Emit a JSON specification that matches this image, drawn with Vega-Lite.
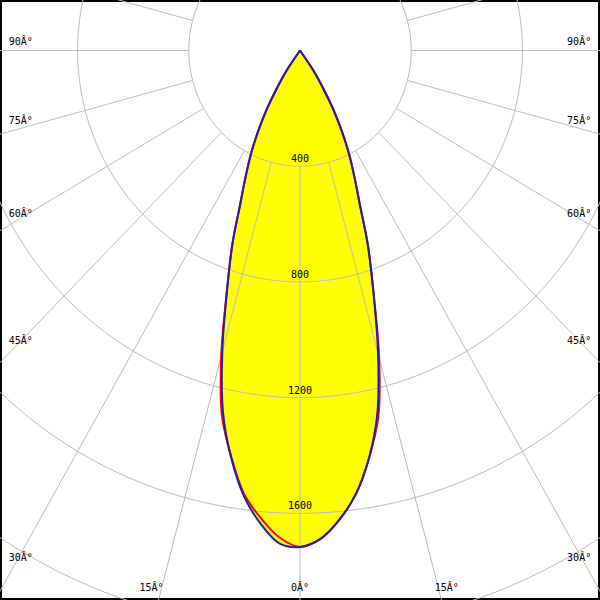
{
  "$schema": "https://vega.github.io/schema/vega-lite/v6.json",
  "width": 600,
  "height": 600,
  "padding": 0,
  "autosize": {"type": "none"},
  "background": "white",
  "config": {"view": {"stroke": "black", "strokeWidth": 4}},
  "datasets": {
    "curves": [
      {"plane": "C0-C180", "angle": -37, "cd": 0},
      {"plane": "C0-C180", "angle": -35, "cd": 80},
      {"plane": "C0-C180", "angle": -33.5, "cd": 125},
      {"plane": "C0-C180", "angle": -32, "cd": 175},
      {"plane": "C0-C180", "angle": -30.5, "cd": 235},
      {"plane": "C0-C180", "angle": -28.5, "cd": 312},
      {"plane": "C0-C180", "angle": -26.5, "cd": 390},
      {"plane": "C0-C180", "angle": -25, "cd": 445},
      {"plane": "C0-C180", "angle": -23.5, "cd": 505},
      {"plane": "C0-C180", "angle": -22, "cd": 575},
      {"plane": "C0-C180", "angle": -20, "cd": 710},
      {"plane": "C0-C180", "angle": -17.5, "cd": 875},
      {"plane": "C0-C180", "angle": -15, "cd": 1095},
      {"plane": "C0-C180", "angle": -12.5, "cd": 1295},
      {"plane": "C0-C180", "angle": -10, "cd": 1425},
      {"plane": "C0-C180", "angle": -7.5, "cd": 1545},
      {"plane": "C0-C180", "angle": -5, "cd": 1622},
      {"plane": "C0-C180", "angle": -2.5, "cd": 1685},
      {"plane": "C0-C180", "angle": 0, "cd": 1716},
      {"plane": "C0-C180", "angle": 2.5, "cd": 1690},
      {"plane": "C0-C180", "angle": 5, "cd": 1628},
      {"plane": "C0-C180", "angle": 7.5, "cd": 1545},
      {"plane": "C0-C180", "angle": 10, "cd": 1430},
      {"plane": "C0-C180", "angle": 12.5, "cd": 1300},
      {"plane": "C0-C180", "angle": 15, "cd": 1100},
      {"plane": "C0-C180", "angle": 17.5, "cd": 880},
      {"plane": "C0-C180", "angle": 20, "cd": 712},
      {"plane": "C0-C180", "angle": 22, "cd": 575},
      {"plane": "C0-C180", "angle": 23.5, "cd": 505},
      {"plane": "C0-C180", "angle": 25, "cd": 445},
      {"plane": "C0-C180", "angle": 26.5, "cd": 390},
      {"plane": "C0-C180", "angle": 28.5, "cd": 312},
      {"plane": "C0-C180", "angle": 30.5, "cd": 235},
      {"plane": "C0-C180", "angle": 32, "cd": 175},
      {"plane": "C0-C180", "angle": 33.5, "cd": 125},
      {"plane": "C0-C180", "angle": 35, "cd": 80},
      {"plane": "C0-C180", "angle": 37, "cd": 0},
      {"plane": "C90-C270", "angle": -37, "cd": 0},
      {"plane": "C90-C270", "angle": -35, "cd": 80},
      {"plane": "C90-C270", "angle": -33.5, "cd": 125},
      {"plane": "C90-C270", "angle": -32, "cd": 175},
      {"plane": "C90-C270", "angle": -30.5, "cd": 235},
      {"plane": "C90-C270", "angle": -28.5, "cd": 312},
      {"plane": "C90-C270", "angle": -26.5, "cd": 390},
      {"plane": "C90-C270", "angle": -25, "cd": 445},
      {"plane": "C90-C270", "angle": -23.5, "cd": 505},
      {"plane": "C90-C270", "angle": -22, "cd": 575},
      {"plane": "C90-C270", "angle": -20, "cd": 710},
      {"plane": "C90-C270", "angle": -17.5, "cd": 875},
      {"plane": "C90-C270", "angle": -15, "cd": 1080},
      {"plane": "C90-C270", "angle": -12.5, "cd": 1280},
      {"plane": "C90-C270", "angle": -10, "cd": 1428},
      {"plane": "C90-C270", "angle": -7.5, "cd": 1552},
      {"plane": "C90-C270", "angle": -5, "cd": 1640},
      {"plane": "C90-C270", "angle": -2.5, "cd": 1705},
      {"plane": "C90-C270", "angle": 0, "cd": 1716},
      {"plane": "C90-C270", "angle": 2.5, "cd": 1690},
      {"plane": "C90-C270", "angle": 5, "cd": 1628},
      {"plane": "C90-C270", "angle": 7.5, "cd": 1545},
      {"plane": "C90-C270", "angle": 10, "cd": 1430},
      {"plane": "C90-C270", "angle": 12.5, "cd": 1285},
      {"plane": "C90-C270", "angle": 15, "cd": 1085},
      {"plane": "C90-C270", "angle": 17.5, "cd": 880},
      {"plane": "C90-C270", "angle": 20, "cd": 712},
      {"plane": "C90-C270", "angle": 22, "cd": 575},
      {"plane": "C90-C270", "angle": 23.5, "cd": 505},
      {"plane": "C90-C270", "angle": 25, "cd": 445},
      {"plane": "C90-C270", "angle": 26.5, "cd": 390},
      {"plane": "C90-C270", "angle": 28.5, "cd": 312},
      {"plane": "C90-C270", "angle": 30.5, "cd": 235},
      {"plane": "C90-C270", "angle": 32, "cd": 175},
      {"plane": "C90-C270", "angle": 33.5, "cd": 125},
      {"plane": "C90-C270", "angle": 35, "cd": 80},
      {"plane": "C90-C270", "angle": 37, "cd": 0}
    ],
    "grid": [
      {"angle": 0, "rings": [400, 800, 1200, 1600, 2000]},
      {"angle": 15, "rings": [400, 800, 1200, 1600, 2000]},
      {"angle": 30, "rings": [400, 800, 1200, 1600, 2000]},
      {"angle": 45, "rings": [400, 800, 1200, 1600, 2000]},
      {"angle": 60, "rings": [400, 800, 1200, 1600, 2000]},
      {"angle": 75, "rings": [400, 800, 1200, 1600, 2000]},
      {"angle": 90, "rings": [400, 800, 1200, 1600, 2000]},
      {"angle": 105, "rings": [400, 800, 1200, 1600, 2000]},
      {"angle": 120, "rings": [400, 800, 1200, 1600, 2000]},
      {"angle": 135, "rings": [400, 800, 1200, 1600, 2000]},
      {"angle": 150, "rings": [400, 800, 1200, 1600, 2000]},
      {"angle": 165, "rings": [400, 800, 1200, 1600, 2000]},
      {"angle": 180, "rings": [400, 800, 1200, 1600, 2000]},
      {"angle": 195, "rings": [400, 800, 1200, 1600, 2000]},
      {"angle": 210, "rings": [400, 800, 1200, 1600, 2000]},
      {"angle": 225, "rings": [400, 800, 1200, 1600, 2000]},
      {"angle": 240, "rings": [400, 800, 1200, 1600, 2000]},
      {"angle": 255, "rings": [400, 800, 1200, 1600, 2000]},
      {"angle": 270, "rings": [400, 800, 1200, 1600, 2000]},
      {"angle": 285, "rings": [400, 800, 1200, 1600, 2000]},
      {"angle": 300, "rings": [400, 800, 1200, 1600, 2000]},
      {"angle": 315, "rings": [400, 800, 1200, 1600, 2000]},
      {"angle": 330, "rings": [400, 800, 1200, 1600, 2000]},
      {"angle": 345, "rings": [400, 800, 1200, 1600, 2000]}
    ],
    "ringlabels": [
      {"value": 400}, {"value": 800}, {"value": 1200}, {"value": 1600}
    ],
    "anglelabels": [
      {"label": "90Â°", "angle": -90},
      {"label": "75Â°", "angle": -75},
      {"label": "60Â°", "angle": -60},
      {"label": "45Â°", "angle": -45},
      {"label": "30Â°", "angle": -30},
      {"label": "15Â°", "angle": -15},
      {"label": "0Â°", "angle": 0},
      {"label": "15Â°", "angle": 15},
      {"label": "30Â°", "angle": 30},
      {"label": "45Â°", "angle": 45},
      {"label": "60Â°", "angle": 60},
      {"label": "75Â°", "angle": 75},
      {"label": "90Â°", "angle": 90}
    ]
  },
  "encoding": {
    "x": {"field": "X", "type": "quantitative", "scale": {"domain": [-1079, 1079], "nice": false, "zero": false}, "axis": null},
    "y": {"field": "Y", "type": "quantitative", "scale": {"domain": [-1899.4, 174.6], "nice": false, "zero": false}, "axis": null}
  },
  "layer": [
    {
      "data": {"name": "curves"},
      "transform": [
        {"calculate": "datum.cd * sin(datum.angle * PI / 180)", "as": "X"},
        {"calculate": "-datum.cd * cos(datum.angle * PI / 180)", "as": "Y"}
      ],
      "mark": {"type": "line", "fill": "#ffff00", "strokeOpacity": 0, "interpolate": "catmull-rom"},
      "encoding": {
        "detail": {"field": "plane", "type": "nominal"},
        "order": {"field": "angle", "type": "quantitative"}
      }
    },
    {
      "data": {"name": "grid"},
      "transform": [
        {"flatten": ["rings"]},
        {"calculate": "datum.rings * sin(datum.angle * PI / 180)", "as": "X"},
        {"calculate": "-datum.rings * cos(datum.angle * PI / 180)", "as": "Y"}
      ],
      "mark": {"type": "line", "interpolate": "cardinal-closed", "stroke": "#bcbcbc", "strokeWidth": 1, "clip": true},
      "encoding": {
        "detail": {"field": "rings", "type": "nominal"},
        "order": {"field": "angle", "type": "quantitative"}
      }
    },
    {
      "data": {"name": "grid"},
      "transform": [
        {"calculate": "400 * sin(datum.angle * PI / 180)", "as": "X"},
        {"calculate": "-400 * cos(datum.angle * PI / 180)", "as": "Y"},
        {"calculate": "2800 * sin(datum.angle * PI / 180)", "as": "X2"},
        {"calculate": "-2800 * cos(datum.angle * PI / 180)", "as": "Y2"}
      ],
      "mark": {"type": "rule", "stroke": "#bcbcbc", "strokeWidth": 1, "clip": true},
      "encoding": {
        "x2": {"field": "X2"},
        "y2": {"field": "Y2"}
      }
    },
    {
      "data": {"name": "ringlabels"},
      "transform": [
        {"calculate": "0", "as": "X"},
        {"calculate": "-datum.value", "as": "Y"}
      ],
      "mark": {"type": "text", "font": "DejaVu Sans Mono", "fontSize": 10, "color": "black", "baseline": "bottom", "dy": -2},
      "encoding": {
        "text": {"field": "value", "type": "quantitative", "format": "d"}
      }
    },
    {
      "data": {"name": "curves"},
      "transform": [
        {"filter": "datum.plane == 'C0-C180'"},
        {"calculate": "datum.cd * sin(datum.angle * PI / 180)", "as": "X"},
        {"calculate": "-datum.cd * cos(datum.angle * PI / 180)", "as": "Y"}
      ],
      "mark": {"type": "line", "stroke": "#ff0000", "strokeWidth": 2, "interpolate": "catmull-rom"},
      "encoding": {
        "order": {"field": "angle", "type": "quantitative"}
      }
    },
    {
      "data": {"name": "curves"},
      "transform": [
        {"filter": "datum.plane == 'C90-C270'"},
        {"calculate": "datum.cd * sin(datum.angle * PI / 180)", "as": "X"},
        {"calculate": "-datum.cd * cos(datum.angle * PI / 180)", "as": "Y"}
      ],
      "mark": {"type": "line", "stroke": "#1e1eb4", "strokeWidth": 2, "interpolate": "catmull-rom"},
      "encoding": {
        "order": {"field": "angle", "type": "quantitative"}
      }
    },
    {
      "data": {"name": "anglelabels"},
      "transform": [
        {"calculate": "abs(sin(datum.angle * PI / 180))", "as": "s"},
        {"calculate": "cos(datum.angle * PI / 180)", "as": "c"},
        {"calculate": "(datum.c < 0.001) || (1004 * datum.c <= 1858 * datum.s)", "as": "side"},
        {"calculate": "datum.side ? 1004 / datum.s : 1858 / datum.c", "as": "r"},
        {"calculate": "datum.r * sin(datum.angle * PI / 180) + (datum.side ? 0 : (datum.angle > 0 ? 30 : (datum.angle < 0 ? -36 : 0)))", "as": "X"},
        {"calculate": "-datum.r * datum.c + (datum.side ? 28 * cos((180 - 2 * abs(datum.angle)) * PI / 180) : 0)", "as": "Y"}
      ],
      "mark": {"type": "text", "font": "DejaVu Sans Mono", "fontSize": 10, "color": "black", "baseline": "middle"},
      "encoding": {
        "text": {"field": "label", "type": "nominal"}
      }
    }
  ]
}
